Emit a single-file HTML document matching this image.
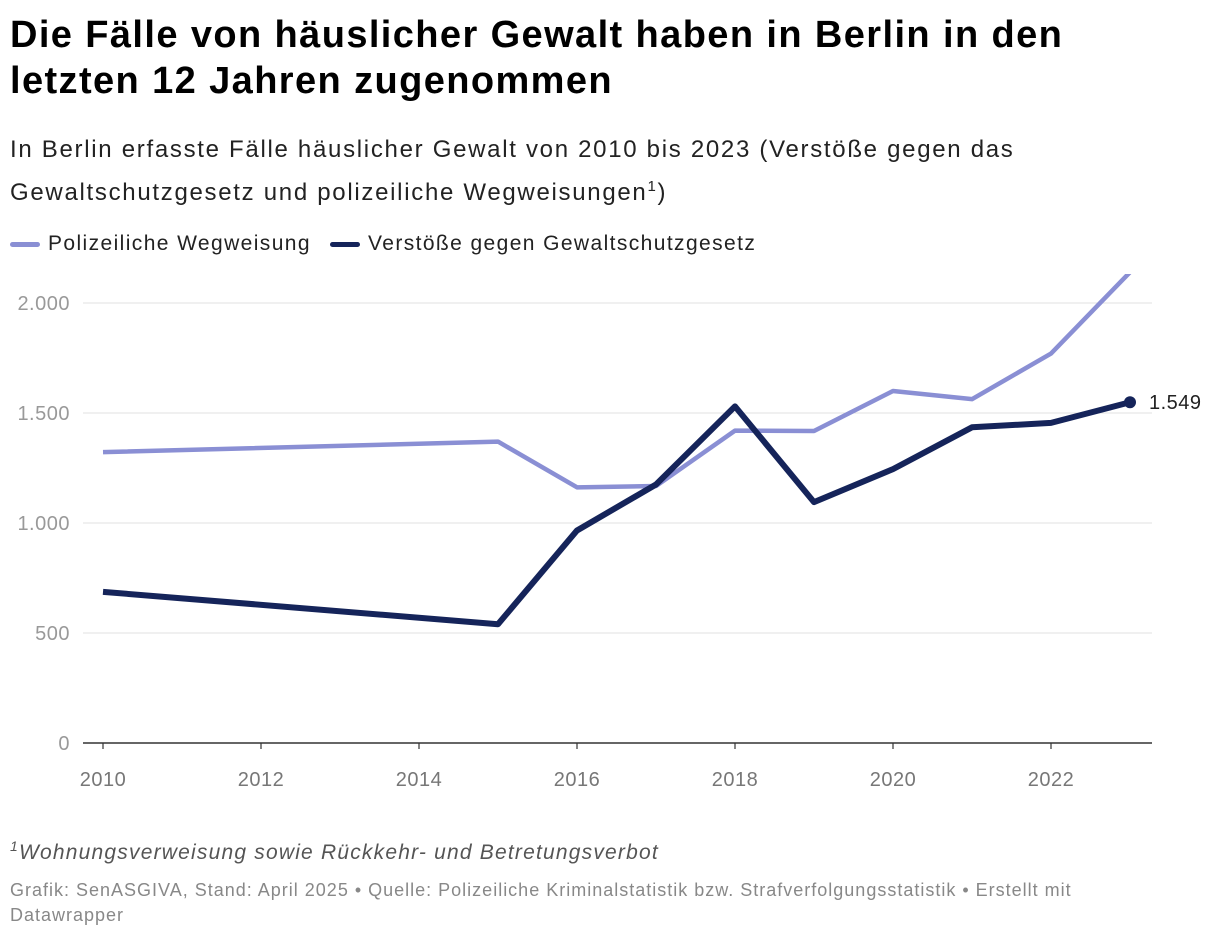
<!DOCTYPE html>
<html><head><meta charset="utf-8">
<style>
body{margin:0;width:1220px;height:940px;background:#fff;font-family:"Liberation Sans",sans-serif;overflow:hidden;position:relative}
.t{position:absolute;left:10px;top:12px;font-size:38px;font-weight:bold;line-height:46px;color:#000;letter-spacing:1.4px}
.s{position:absolute;left:10px;top:128px;font-size:24px;line-height:43px;color:#222;letter-spacing:1.7px}
.leg{position:absolute;top:232px;font-size:21px;color:#222;display:flex;align-items:center;letter-spacing:1.4px}
.leg i{display:inline-block;width:30px;height:5px;border-radius:3px;margin-right:8px}
.fn{position:absolute;left:10px;top:838px;font-size:21px;font-style:italic;color:#555;letter-spacing:1.2px}
.src{position:absolute;left:10px;top:878px;font-size:18px;line-height:25px;color:#888;width:1160px;letter-spacing:1px}
svg{position:absolute;left:0;top:0}
svg text{letter-spacing:0.5px}
</style></head><body>
<div class="t">Die Fälle von häuslicher Gewalt haben in Berlin in den<br>letzten 12 Jahren zugenommen</div>
<div class="s">In Berlin erfasste Fälle häuslicher Gewalt von 2010 bis 2023 (Verstöße gegen das<br>Gewaltschutzgesetz und polizeiliche Wegweisungen<sup style="font-size:15px;line-height:0">1</sup>)</div>
<div class="leg" style="left:10px"><i style="background:#8a8fd4"></i>Polizeiliche Wegweisung</div>
<div class="leg" style="left:330px"><i style="background:#15245a"></i>Verstöße gegen Gewaltschutzgesetz</div>
<svg id="c" width="1220" height="940"></svg>
<div class="fn"><sup style="font-size:14px">1</sup>Wohnungsverweisung sowie Rückkehr- und Betretungsverbot</div>
<div class="src">Grafik: SenASGIVA, Stand: April 2025 • Quelle: Polizeiliche Kriminalstatistik bzw. Strafverfolgungsstatistik • Erstellt mit Datawrapper</div>
<script>
const years=[2010,2015,2016,2017,2018,2019,2020,2021,2022,2023];
const wegweisung=[1322,1370,1162,1168,1420,1418,1600,1563,1770,2140];
const gewaltschutz=[687,540,966,1175,1530,1095,1245,1435,1455,1549];
const yTicks=[0,500,1000,1500,2000];
const yTickLabels=["0","500","1.000","1.500","2.000"];
const xTicks=[2010,2012,2014,2016,2018,2020,2022];
const NS="http://www.w3.org/2000/svg";
const svg=document.getElementById('c');
const x=v=>103+(v-2010)*79;
const y=v=>743-v*0.22;
function mk(t,a){const e=document.createElementNS(NS,t);for(const k in a)e.setAttribute(k,a[k]);svg.appendChild(e);return e;}
const defs=mk('defs',{});
const cp=document.createElementNS(NS,'clipPath');cp.setAttribute('id','clip');
const r=document.createElementNS(NS,'rect');r.setAttribute('x',0);r.setAttribute('y',274);r.setAttribute('width',1220);r.setAttribute('height',500);
cp.appendChild(r);defs.appendChild(cp);
yTicks.forEach((v,i)=>{
 if(v>0){const g=mk('line',{x1:83,x2:1152,y1:y(v),y2:y(v),stroke:'#e2e2e2','stroke-width':1});
 }
 const t=mk('text',{x:70,y:y(v)+7,'text-anchor':'end','font-size':20,fill:'#999'});
 
 t.textContent=yTickLabels[i];
});
const ax=mk('line',{x1:83,x2:1152,y1:743,y2:743,stroke:'#333','stroke-width':1.5});

xTicks.forEach(v=>{
 mk('line',{x1:x(v),x2:x(v),y1:743,y2:749,stroke:'#333','stroke-width':1.2});
 const t=mk('text',{x:x(v),y:786,'text-anchor':'middle','font-size':20,fill:'#777'});
 
 t.textContent=v;
});
function line(vals,col,name){
 const p=mk('polyline',{points:vals.map((v,i)=>x(years[i])+','+y(v)).join(' '),fill:'none',stroke:col,'stroke-width':name=='line-gewaltschutz'?6:4.5,'stroke-linejoin':'round','clip-path':'url(#clip)'});
 
}
line(wegweisung,'#8a8fd4','line-wegweisung');
line(gewaltschutz,'#15245a','line-gewaltschutz');
const li=gewaltschutz.length-1;
const d=mk('circle',{cx:x(years[li]),cy:y(gewaltschutz[li]),r:6,fill:'#15245a'});

const lb=mk('text',{x:x(years[li])+19,y:y(gewaltschutz[li])+7,'font-size':20,fill:'#222'});

lb.textContent=gewaltschutz[li].toLocaleString('de-DE');
</script>
</body></html>
